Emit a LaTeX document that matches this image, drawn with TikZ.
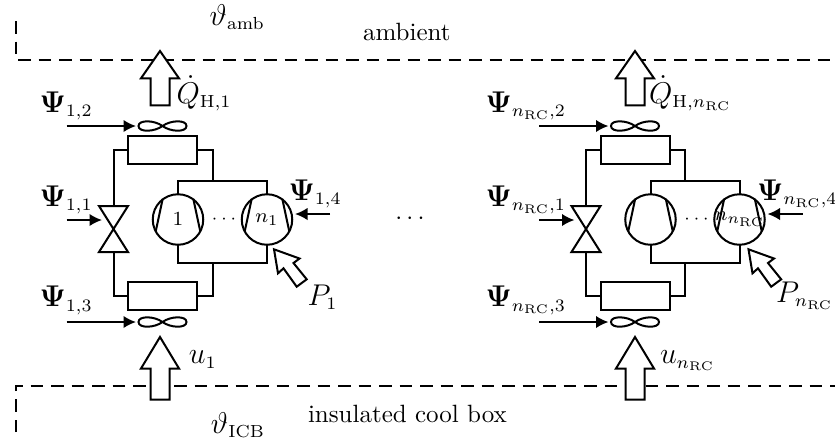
\documentclass[tikz,border=0pt]{standalone}
\usetikzlibrary{arrows.meta}
\DeclareMathSizes{11.5}{11.5}{7}{5}
\DeclareMathSizes{8}{8}{6}{5}
\DeclareMathSizes{7}{7}{5}{5}
\tikzset{
  pipe/.style={line width=0.8pt},
  hxbox/.style={draw,line width=0.8pt,rectangle,minimum width=27.6pt,minimum height=11.4pt,inner sep=0pt,outer sep=0pt},
  compbox/.style={draw,line width=0.8pt,circle,minimum size=20.2pt,inner sep=0pt,outer sep=0pt},
  bigarrow/.style={draw,line width=0.8pt,fill=white,line join=miter},
  feed/.style={line width=0.8pt,-{Latex[length=5pt,width=5pt]}},
  boundary/.style={line width=0.8pt,dash pattern=on 5pt off 3.2pt},
  lab/.style={inner sep=0pt,outer sep=0pt,anchor=base west,font=\fontsize{11.5}{14}\selectfont},
  txt/.style={inner sep=0pt,outer sep=0pt,anchor=base west},
  inner/.style={inner sep=0pt,outer sep=0pt,font=\fontsize{8}{10}\selectfont},
  innerdots/.style={inner sep=0pt,outer sep=0pt,font=\fontsize{7}{9}\selectfont}
}
% #1 prefix, #2 unit shift, #3 arrow shift, #4 P-arrow shift
\newcommand{\rcunit}[4]{%
\begin{scope}[shift={(#2,0)}]
  \node[hxbox] (#1hc) at (162.5,150) {};
  \node[hxbox] (#1he) at (162.5,296) {};
  \node[compbox] (#1ca) at (178,219.5) {};
  \node[compbox] (#1cb) at (267,219.5) {};
  \coordinate (#1vt) at (113.5,206);
  \coordinate (#1vb) at (113.5,252);
  \coordinate (#1tj) at (212.5,181);
  \coordinate (#1bj) at (212.5,263);
  \coordinate (#1ft) at (162.5,126);
  \coordinate (#1fb) at (162.5,322);
  % pipes
  \draw[pipe] (#1hc.west) -| (#1vt);
  \draw[pipe] (#1he.west) -| (#1vb);
  \draw[pipe] (#1hc.east) -| (#1tj);
  \draw[pipe] (#1he.east) -| (#1bj);
  \draw[pipe] (#1ca.north) |- (#1tj) -| (#1cb.north);
  \draw[pipe] (#1ca.south) |- (#1bj) -| (#1cb.south);
  % valve
  \draw[pipe,line join=miter] (#1vt) ++(-14.5,0) -- ++(29,0) -- ++(-29,46) -- ++(29,0) -- cycle;
  % compressor chords
  \foreach \c in {ca,cb}{
    \draw[pipe] (#1\c) ++(-15.3,-20.7) -- ++(-7,32.7);
    \draw[pipe] (#1\c) ++(15.3,-20.7) -- ++(7,32.7);
  }
  % fans
  \foreach \f in {ft,fb}{
    \begin{scope}[shift={(#1\f)}]
    \draw[pipe] (0,0) .. controls (8,-6) and (24,-6.5) .. (24,0) .. controls (24,6.5) and (8,6) .. (0,0)
      .. controls (-8,-6) and (-24,-6.5) .. (-24,0) .. controls (-24,6.5) and (-8,6) .. (0,0) -- cycle;
    \end{scope}
  }
  % feeds
  \coordinate (#1ia) at (66.5,126);
  \coordinate (#1ib) at (66.5,322);
  \coordinate (#1ic) at (66.5,220);
  \coordinate (#1ta) at (136,126);
  \coordinate (#1tb) at (136,322);
  \coordinate (#1tc) at (102,220);
  \coordinate (#1id) at (330,214);
  \coordinate (#1td) at (295,214);
  \draw[feed] (#1ia) -- (#1ta);
  \draw[feed] (#1ib) -- (#1tb);
  \draw[feed] (#1ic) -- (#1tc);
  \draw[feed] (#1id) -- (#1td);
\end{scope}
\begin{scope}[shift={(#3,0)}]
  \draw[bigarrow] (160,51) -- (179,78.3) -- (169.5,78.3) -- (169.5,105.3) -- (150.5,105.3) -- (150.5,78.3) -- (141,78.3) -- cycle;
  \draw[bigarrow] (160,337) -- (179,368.5) -- (169.5,368.5) -- (169.5,399.5) -- (150.5,399.5) -- (150.5,368.5) -- (141,368.5) -- cycle;
\end{scope}
\begin{scope}[shift={(#4,0)}]
  \draw[bigarrow] (274,249.3) -- (299.5,258.5) -- (293.5,263) -- (306.7,279.3) -- (296.7,286.7) -- (283.5,268.3) -- (278,273.3) -- cycle;
\end{scope}
}
\begin{document}
\begin{tikzpicture}[x=0.4pt,y=-0.4pt]
  \useasboundingbox (0,0) rectangle (835,443);
  \coordinate (ta) at (15.5,21);
  \coordinate (tb) at (15.5,59.5);
  \coordinate (tc) at (835,59.5);
  \coordinate (ba) at (15.5,432);
  \coordinate (bb) at (15.5,385.7);
  \coordinate (bc) at (835,385.7);
  \draw[boundary] (ta) -- (tb) -- (tc);
  \draw[boundary] (ba) -- (bb) -- (bc);

  \rcunit{a}{0}{0}{0}
  \rcunit{b}{472.5}{475}{474.5}

  \node[lab] (lamb) at (209.5,25) {$\vartheta_{\mathrm{amb}}$};
  \node[lab] (licb) at (211,433) {$\vartheta_{\mathrm{ICB}}$};
  \node[txt] (tamb) at (363,40.5) {ambient};
  \node[txt] (ticb) at (308,422.5) {insulated cool box};
  \node (mdots) at (410,219) {$\cdots$};

  \node[inner] (ln1) at (178,219.5) {$1$};
  \node[inner] (ln2) at (267,219.5) {$n_1$};
  \node[innerdots] (dd1) at (224,219) {$\cdots$};
  \node[inner] (ln3) at (740,219.5) {$n_{n_{\mathrm{RC}}}$};
  \node[innerdots] (dd2) at (696.5,219) {$\cdots$};

  \node[lab] (p12) at (39.5,112) {$\mathbf{\Psi}_{1,2}$};
  \node[lab] (p11) at (39.5,206) {$\mathbf{\Psi}_{1,1}$};
  \node[lab] (p13) at (39.5,306.5) {$\mathbf{\Psi}_{1,3}$};
  \node[lab] (p14) at (288.5,200) {$\mathbf{\Psi}_{1,4}$};
  \node[lab] (q1) at (176.5,103) {$\dot{Q}_{\mathrm{H},1}$};
  \node[lab] (u1) at (189,363.5) {$u_1$};
  \node[lab] (P1) at (307.5,305) {$P_1$};

  \node[lab] (r12) at (485.5,112) {$\mathbf{\Psi}_{n_{\mathrm{RC}},2}$};
  \node[lab] (r11) at (485.5,206) {$\mathbf{\Psi}_{n_{\mathrm{RC}},1}$};
  \node[lab] (r13) at (485.5,306.5) {$\mathbf{\Psi}_{n_{\mathrm{RC}},3}$};
  \node[lab] (r14) at (757,200) {$\mathbf{\Psi}_{n_{\mathrm{RC}},4}$};
  \node[lab] (qn) at (649,103) {$\dot{Q}_{\mathrm{H},n_{\mathrm{RC}}}$};
  \node[lab] (un) at (660,363.5) {$u_{n_{\mathrm{RC}}}$};
  \node[lab] (Pn) at (776,302) {$P_{n_{\mathrm{RC}}}$};
\end{tikzpicture}
\end{document}
